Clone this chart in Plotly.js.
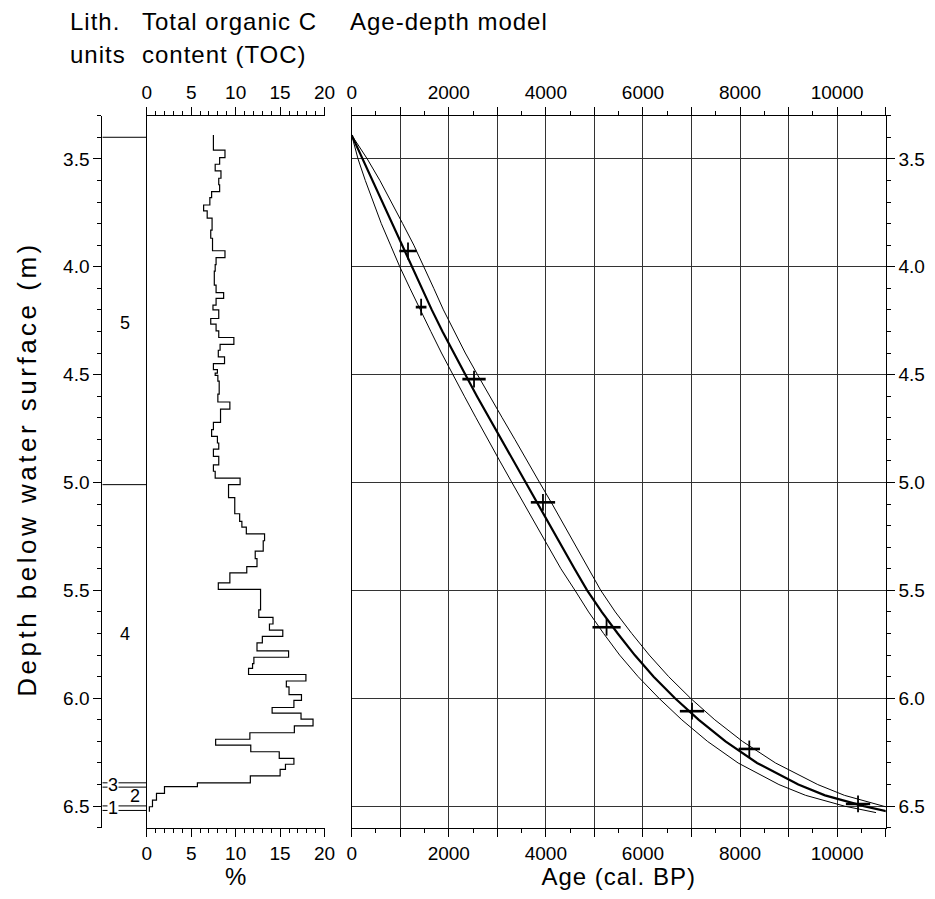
<!DOCTYPE html>
<html>
<head>
<meta charset="utf-8">
<script src="https://cdn.plot.ly/plotly-3.0.1.min.js"></script>
<style>
  html, body { margin: 0; padding: 0; background: #fff; }
  #chart { width: 935px; height: 899px; }
</style>
</head>
<body>
<div id="chart"></div>
<script>
// ---------- DATA ----------
// Lithological units (boundaries in m, unit names, label depth)
const lithBoundaries = [3.40, 5.01, 6.392, 6.412, 6.499, 6.52];
const lithUnits = ["5", "4", "3", "2", "1"];
const lithLabelDepth = [4.26, 5.70, 6.40, 6.455, 6.51];

// Total organic carbon, step profile: top depth of each sample interval (m) and value (%)
const tocTop = [3.39, 3.46, 3.494, 3.525, 3.556, 3.59, 3.62, 3.652, 3.68, 3.714, 3.741, 3.775, 3.83, 3.868, 3.926, 3.958, 3.99, 4.02, 4.085, 4.12, 4.147, 4.178, 4.2, 4.24, 4.266, 4.297, 4.328, 4.36, 4.387, 4.418, 4.449, 4.477, 4.493, 4.504, 4.53, 4.59, 4.627, 4.66, 4.721, 4.755, 4.786, 4.817, 4.845, 4.879, 4.918, 4.948, 4.98, 5.01, 5.07, 5.145, 5.18, 5.207, 5.238, 5.27, 5.318, 5.353, 5.39, 5.419, 5.465, 5.495, 5.59, 5.625, 5.656, 5.684, 5.713, 5.743, 5.78, 5.81, 5.84, 5.862, 5.89, 5.92, 5.947, 5.983, 6.01, 6.043, 6.069, 6.097, 6.128, 6.16, 6.19, 6.217, 6.248, 6.279, 6.306, 6.33, 6.36, 6.392, 6.41, 6.441, 6.472, 6.503];
const tocBottom = 6.526;
const tocValue = [7.5, 8.8, 8.2, 7.7, 8.35, 8.1, 8.2, 7.3, 7.1, 6.4, 6.8, 7.35, 7.2, 7.4, 8.8, 7.8, 7.7, 7.6, 7.8, 8.65, 7.8, 7.45, 8.1, 7.2, 7.8, 8.1, 9.8, 8.25, 8.05, 8.75, 7.5, 7.95, 7.7, 8.0, 8.15, 8.0, 9.35, 8.3, 7.5, 7.3, 7.95, 8.1, 7.5, 8.1, 7.5, 7.7, 10.5, 9.2, 9.9, 10.45, 10.7, 11.2, 13.25, 13.1, 12.2, 12.4, 11.25, 9.35, 8.05, 12.8, 12.6, 14.2, 13.8, 15.3, 13.0, 12.4, 15.95, 12.05, 11.9, 11.45, 17.9, 15.7, 16.0, 17.4, 16.55, 14.1, 17.35, 18.7, 16.6, 11.6, 7.75, 11.7, 14.9, 16.55, 15.6, 15.0, 11.65, 5.7, 2.0, 1.1, 0.65, 0.3];

// Age-depth model curves (depth m, age cal. BP)
const modelDepth = [3.39, 3.5, 3.6, 3.7, 3.8, 3.9, 4.0, 4.1, 4.2, 4.3, 4.4, 4.5, 4.6, 4.7, 4.8, 4.9, 5.0, 5.1, 5.2, 5.3, 5.4, 5.5, 5.6, 5.7, 5.8, 5.9, 6.0, 6.1, 6.2, 6.3, 6.4, 6.45, 6.5, 6.53];
const modelAge   = [0, 225, 430, 630, 830, 1040, 1240, 1440, 1650, 1870, 2100, 2340, 2580, 2830, 3080, 3330, 3590, 3840, 4090, 4340, 4590, 4850, 5150, 5480, 5830, 6220, 6660, 7150, 7700, 8350, 9200, 9750, 10550, 11150];
const modelYoung = [0, 130, 280, 440, 610, 800, 990, 1200, 1410, 1630, 1850, 2080, 2320, 2560, 2800, 3050, 3300, 3550, 3800, 4050, 4310, 4600, 4880, 5190, 5520, 5900, 6330, 6800, 7330, 7960, 8800, 9350, 10150, 10800];
const modelOld   = [0, 320, 580, 820, 1050, 1280, 1490, 1690, 1890, 2110, 2340, 2590, 2840, 3100, 3360, 3610, 3870, 4130, 4380, 4640, 4890, 5130, 5430, 5770, 6130, 6530, 6980, 7480, 8050, 8730, 9600, 10150, 10950, 11500];

// Dated samples (depth m, age cal. BP, 1-sigma error)
const dateDepth = [3.927, 4.187, 4.521, 5.092, 5.671, 6.06, 6.235, 6.49];
const dateAge   = [1160, 1430, 2520, 3940, 5250, 7010, 8190, 10430];
const dateErr   = [180, 110, 240, 250, 290, 250, 220, 250];

// ---------- LAYOUT HELPERS ----------
const W = 935, H = 899;
const px = v => v / W;
const py = v => 1 - v / H;
const FONT = "'Liberation Sans', Arial, Helvetica, sans-serif";
const yDom = [py(827.7), py(115.7)];
const depthRange = [6.6, 3.3];

// Step profile arrays
const tocY = tocTop.concat([tocBottom]);
const tocX = tocValue.concat([tocValue[tocValue.length - 1]]);

// Lith boundary lines
const lithX = [], lithY = [];
lithBoundaries.forEach(d => { lithX.push(0, 1, null); lithY.push(d, d, null); });

const traces = [
  { x: lithX, y: lithY, xaxis: 'x', yaxis: 'y', mode: 'lines', line: {color: '#000', width: 1}, hoverinfo: 'skip' },
  { x: tocX, y: tocY, xaxis: 'x2', yaxis: 'y2', mode: 'lines', line: {color: '#000', width: 1.2, shape: 'vh'} },
  { x: [null], y: [null], xaxis: 'x3', yaxis: 'y2', mode: 'lines', hoverinfo: 'skip' },
  { x: modelYoung, y: modelDepth, xaxis: 'x4', yaxis: 'y3', mode: 'lines', line: {color: '#000', width: 1} },
  { x: modelOld, y: modelDepth, xaxis: 'x4', yaxis: 'y3', mode: 'lines', line: {color: '#000', width: 1} },
  { x: modelAge, y: modelDepth, xaxis: 'x4', yaxis: 'y3', mode: 'lines', line: {color: '#000', width: 2.2} },
  { x: [null], y: [null], xaxis: 'x5', yaxis: 'y3', mode: 'lines', hoverinfo: 'skip' },
  { x: dateAge, y: dateDepth, xaxis: 'x4', yaxis: 'y3', mode: 'markers',
    marker: {symbol: 'line-ns-open', size: 12, color: '#000', line: {color: '#000', width: 1.8}},
    error_x: {type: 'data', array: dateErr, visible: true, color: '#000', thickness: 2.6, width: 0} }
];

// Unit labels
const lithLabelX = [0.5, 0.5, 0.24, 0.74, 0.24];
const annotations = lithUnits.map((u, i) => ({
  x: lithLabelX[i], y: lithLabelDepth[i],
  xref: 'x', yref: 'y', text: u, showarrow: false,
  font: {family: FONT, size: 18, color: '#000'},
  bgcolor: (i === 2 || i === 4) ? '#fff' : 'rgba(0,0,0,0)', borderpad: 0
}));

function title(text, x, y, opts) {
  return Object.assign({ text: text, x: px(x), y: py(y), xref: 'paper', yref: 'paper',
    xanchor: 'left', yanchor: 'middle', align: 'left', showarrow: false, borderpad: 0,
    font: {family: FONT, size: 24, color: '#000'} }, opts || {});
}
annotations.push(
  title('Lith.', 69, 21.5),
  title('units', 69, 54.5),
  title('Total organic C', 141, 21.5),
  title('content (TOC)', 141, 54.5),
  title('Age-depth model', 349, 21.5),
  title('%', 236, 876, {xanchor: 'center', align: 'center'}),
  title('Age (cal. BP)', 618, 876, {xanchor: 'center', align: 'center'}),
  title('Depth below water surface (m)', 27, 469, {xanchor: 'center', align: 'center', textangle: -90,
    font: {family: FONT, size: 26, color: '#000'}})
);

const tickFont = {family: FONT, size: 19, color: '#000'};
const depthAxisBase = {
  domain: yDom, range: depthRange, showline: true, linecolor: '#000', linewidth: 1,
  zeroline: false, tickfont: tickFont, fixedrange: true
};
const tocAxisBase = {
  domain: [px(146.7), px(324.6)], range: [0, 20], showline: true, linecolor: '#000', linewidth: 1,
  ticks: 'outside', ticklen: 8, tickwidth: 1, tickcolor: '#000', dtick: 5, tick0: 0,
  minor: {dtick: 1, ticklen: 4, ticks: 'outside', tickcolor: '#000', showgrid: false},
  showgrid: false, zeroline: false, tickfont: tickFont, fixedrange: true
};
const ageAxisBase = {
  domain: [px(351.7), px(885.7)], range: [0, 11000], showline: true, linecolor: '#000', linewidth: 1,
  ticks: 'outside', ticklen: 8, tickwidth: 1, tickcolor: '#000', dtick: 1000, tick0: 0, ticklabelstep: 2,
  tickformat: 'd', minor: {dtick: 500, ticklen: 4, ticks: 'outside', tickcolor: '#000', showgrid: false},
  zeroline: false, tickfont: tickFont, fixedrange: true
};

const layout = {
  width: W, height: H, margin: {l: 0, r: 0, t: 0, b: 0}, paper_bgcolor: '#fff', plot_bgcolor: 'rgba(0,0,0,0)',
  showlegend: false, font: {family: FONT, color: '#000'},
  xaxis: {domain: [px(102.3), px(146.7)], range: [0, 1], visible: false, anchor: 'y', fixedrange: true},
  yaxis: Object.assign({}, depthAxisBase, {anchor: 'x', side: 'left', ticks: 'outside', ticklen: 8, tickwidth: 1,
    tickcolor: '#000', dtick: 0.5, tick0: 0, tickformat: '.1f', showgrid: false,
    minor: {dtick: 0.1, ticklen: 4, ticks: 'outside', tickcolor: '#000', showgrid: false}}),
  xaxis2: Object.assign({}, tocAxisBase, {anchor: 'y2', side: 'bottom'}),
  xaxis3: Object.assign({}, tocAxisBase, {anchor: 'y2', side: 'top', overlaying: 'x2'}),
  yaxis2: Object.assign({}, depthAxisBase, {anchor: 'x2', side: 'left', ticks: '', showticklabels: false, showgrid: false}),
  xaxis4: Object.assign({}, ageAxisBase, {anchor: 'y3', side: 'bottom', showgrid: true, gridcolor: '#333', gridwidth: 1}),
  xaxis5: Object.assign({}, ageAxisBase, {anchor: 'y3', side: 'top', overlaying: 'x4', showgrid: false}),
  yaxis3: Object.assign({}, depthAxisBase, {anchor: 'x4', side: 'right', mirror: true, ticks: 'outside', ticklen: 8,
    tickwidth: 1, tickcolor: '#000', dtick: 0.5, tick0: 0, tickformat: '.1f', showgrid: true, gridcolor: '#333', gridwidth: 1,
    minor: {dtick: 0.1, ticklen: 4, ticks: 'outside', tickcolor: '#000', showgrid: false}}),
  annotations: annotations
};

Plotly.newPlot('chart', traces, layout, {staticPlot: true, displayModeBar: false}).then(() => {
  // slightly wider letter spacing for the panel titles, as in the original figure
  document.querySelectorAll('.annotation-text').forEach(t => {
    const s = t.textContent;
    if (s.length > 1) t.style.letterSpacing = s.indexOf('Depth') === 0 ? '3.5px' : '1px';
  });
});
</script>
</body>
</html>
